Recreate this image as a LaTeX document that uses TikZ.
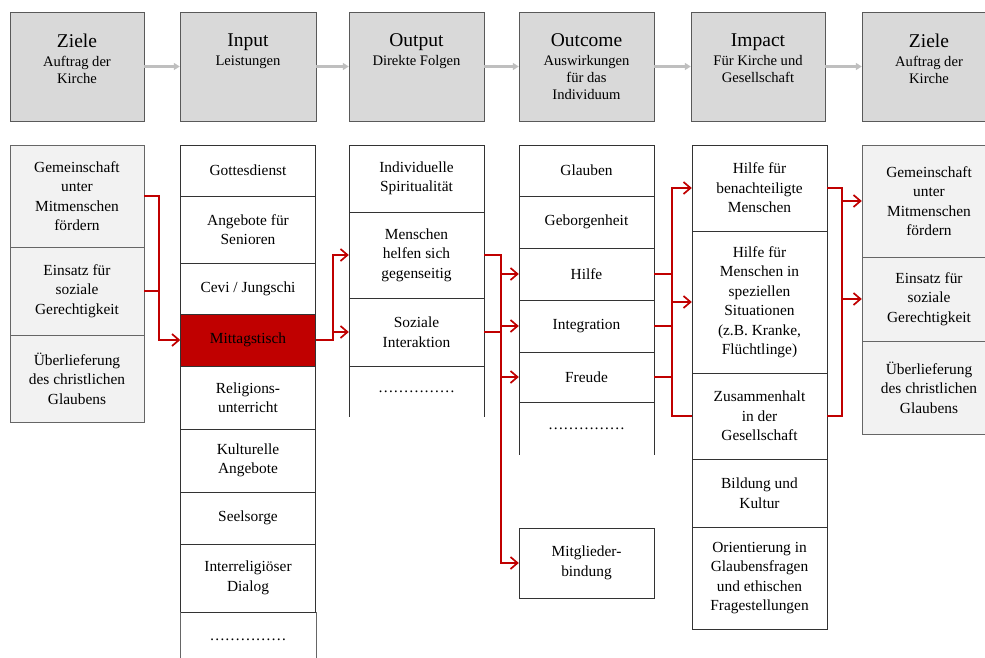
\documentclass[tikz,border=0pt]{standalone}
\usepackage{fontspec}
\setmainfont{Liberation Serif}
\usetikzlibrary{arrows.meta}
\definecolor{headgray}{HTML}{D9D9D9}
\definecolor{goalgray}{HTML}{F2F2F2}
\definecolor{linkred}{HTML}{C00000}
\definecolor{flowgray}{HTML}{BFBFBF}
\newcommand{\celltxt}{\fontsize{15.4}{19.5}\selectfont}
\newcommand{\headsub}{\fontsize{14.6}{17}\selectfont}
\newcommand{\headbig}{\fontsize{19.5}{21}\selectfont}

\begin{document}
\begin{tikzpicture}[x=1pt, y=-1pt,
    head/.style={draw=black!65, fill=headgray, minimum height=109pt, inner sep=0pt},
    headtxt/.style={anchor=north, align=center, inner sep=0pt, font=\headsub},
    cell/.style={draw=black!80, minimum width=135pt, inner sep=0pt, align=center, font=\celltxt},
    goal/.style={cell, draw=black!60, fill=goalgray, minimum width=134pt},
    flow/.style={draw=flowgray, line width=2.5pt, -{Triangle[length=6pt,width=7pt]}},
    wire/.style={draw=linkred, line width=1.7pt},
    link/.style={wire, -{Straight Barb[length=7pt,width=12pt]}}]
    \useasboundingbox (0,0) rectangle (985,658);

    % header row
    \node[head, minimum width=134pt] at (77,66.5) (h1) {};
    \node[head, minimum width=136pt] at (248,66.5) (h2) {};
    \node[head, minimum width=135pt] at (416.5,66.5) (h3) {};
    \node[head, minimum width=135pt] at (586.5,66.5) (h4) {};
    \node[head, minimum width=134pt] at (758,66.5) (h5) {};
    \node[head, minimum width=134pt] at (929,66.5) (h6) {};
    \node[headtxt] at ([yshift=-21.5pt]h1.north) (t1) {{\headbig Ziele}\\[2pt]Auftrag der\\Kirche};
    \node[headtxt] at ([yshift=-21.5pt]h2.north) (t2) {{\headbig Input}\\[2pt]Leistungen};
    \node[headtxt] at ([yshift=-21.5pt]h3.north) (t3) {{\headbig Output}\\[2pt]Direkte Folgen};
    \node[headtxt] at ([yshift=-21.5pt]h4.north) (t4) {{\headbig Outcome}\\[2pt]Auswirkungen\\für das\\Individuum};
    \node[headtxt] at ([yshift=-21.5pt]h5.north) (t5) {{\headbig Impact}\\[2pt]Für Kirche und\\Gesellschaft};
    \node[headtxt] at ([yshift=-21.5pt]h6.north) (t6) {{\headbig Ziele}\\[2pt]Auftrag der\\Kirche};
    \draw[flow] (h1) -- (h2);
    \draw[flow] (h2) -- (h3);
    \draw[flow] (h3) -- (h4);
    \draw[flow] (h4) -- (h5);
    \draw[flow] (h5) -- (h6);

    % Ziele (left)
    \node[goal, minimum height=102pt] at (77,196) (g1) {Gemeinschaft\\unter\\Mitmenschen\\fördern};
    \node[goal, minimum height=88pt] at (77,291) (g2) {Einsatz für\\soziale\\Gerechtigkeit};
    \node[goal, minimum height=87pt] at (77,378.5) (g3) {Überlieferung\\des christlichen\\Glaubens};

    % Input
    \node[cell, minimum height=51pt] at (248,170.5) (i1) {Gottesdienst};
    \node[cell, minimum height=67pt] at (248,229.5) (i2) {Angebote für\\Senioren};
    \node[cell, minimum height=51pt] at (248,288.5) (i3) {Cevi / Jungschi};
    \node[cell, minimum height=52pt, fill=linkred] at (248,340) (i4) {Mittagstisch};
    \node[cell, minimum height=63pt] at (248,397.5) (i5) {Religions-\\unterricht};
    \node[cell, minimum height=63pt] at (248,460.5) (i6) {Kulturelle\\Angebote};
    \node[cell, minimum height=52pt] at (248,518) (i7) {Seelsorge};
    \node[cell, minimum height=68pt] at (248,578) (i8) {Interreligiöser\\Dialog};
    \node[cell, minimum height=56pt, draw=none] at (248,640) (i9) {……………};
    \draw[black!60] (i9.north west) -- (i9.south west) (i9.north east) -- (i9.south east);

    % Output
    \node[cell, minimum height=67pt] at (416.5,178.5) (o1) {Individuelle\\Spiritualität};
    \node[cell, minimum height=86pt] at (416.5,255) (o2) {Menschen\\helfen sich\\gegenseitig};
    \node[cell, minimum height=68pt] at (416.5,332) (o3) {Soziale\\Interaktion};
    \node[cell, minimum height=51pt, draw=none] at (416.5,391.5) (o4) {……………};
    \draw[black!80] (o4.north west) -- (o4.south west) (o4.north east) -- (o4.south east);

    % Outcome
    \node[cell, minimum height=51pt] at (586.5,170.5) (c1) {Glauben};
    \node[cell, minimum height=52pt] at (586.5,222) (c2) {Geborgenheit};
    \node[cell, minimum height=52pt] at (586.5,274) (c3) {Hilfe};
    \node[cell, minimum height=52pt] at (586.5,326) (c4) {Integration};
    \node[cell, minimum height=50pt] at (586.5,377) (c5) {Freude};
    \node[cell, minimum height=53pt, draw=none] at (586.5,428.5) (c6) {……………};
    \draw[black!80] (c6.north west) -- (c6.south west) (c6.north east) -- (c6.south east);
    \node[cell, minimum height=70pt] at (586.5,563) (c7) {Mitglieder-\\bindung};

    % Impact
    \node[cell, minimum height=86pt] at (759.5,188) (p1) {Hilfe für\\benachteiligte\\Menschen};
    \node[cell, minimum height=142pt] at (759.5,302) (p2) {Hilfe für\\Menschen in\\speziellen\\Situationen\\(z.B. Kranke,\\Flüchtlinge)};
    \node[cell, minimum height=86pt] at (759.5,416) (p3) {Zusammenhalt\\in der\\Gesellschaft};
    \node[cell, minimum height=68pt] at (759.5,493) (p4) {Bildung und\\Kultur};
    \node[cell, minimum height=102pt] at (759.5,578) (p5) {Orientierung in\\Glaubensfragen\\und ethischen\\Fragestellungen};

    % Ziele (right)
    \node[goal, minimum height=112pt] at (929,201) (z1) {Gemeinschaft\\unter\\Mitmenschen\\fördern};
    \node[goal, minimum height=84pt] at (929,299) (z2) {Einsatz für\\soziale\\Gerechtigkeit};
    \node[goal, minimum height=93pt] at (929,387.5) (z3) {Überlieferung\\des christlichen\\Glaubens};

    % red connectors
    \coordinate (b1) at (159,0);
    \coordinate (b2) at (333,0);
    \coordinate (b3) at (501,0);
    \coordinate (b4) at (672,0);
    \coordinate (b5) at (842,0);
    \draw[link] (g1.east) -| (i4.west -| b1) -- (i4.west);
    \draw[wire] (g2.east) -- (g2.east -| b1);
    \draw[link] (i4.east) -| (o2.west -| b2) -- (o2.west);
    \draw[link] (o3.west -| b2) -- (o3.west);
    \draw[link] (o2.east) -| (c7.west -| b3) -- (c7.west);
    \draw[wire] (o3.east) -- (o3.east -| b3);
    \draw[link] (c3.west -| b3) -- (c3.west);
    \draw[link] (c4.west -| b3) -- (c4.west);
    \draw[link] (c5.west -| b3) -- (c5.west);
    \draw[link, {Straight Barb[length=7pt,width=12pt]}-] (p1.west) -| (p3.west -| b4) -- (p3.west);
    \draw[link] (p2.west -| b4) -- (p2.west);
    \draw[wire] (c3.east) -- (c3.east -| b4);
    \draw[wire] (c4.east) -- (c4.east -| b4);
    \draw[wire] (c5.east) -- (c5.east -| b4);
    \draw[wire] (p1.east) -| (p3.east -| b5) -- (p3.east);
    \draw[link] (z1.west -| b5) -- (z1.west);
    \draw[link] (z2.west -| b5) -- (z2.west);
\end{tikzpicture}
\end{document}
